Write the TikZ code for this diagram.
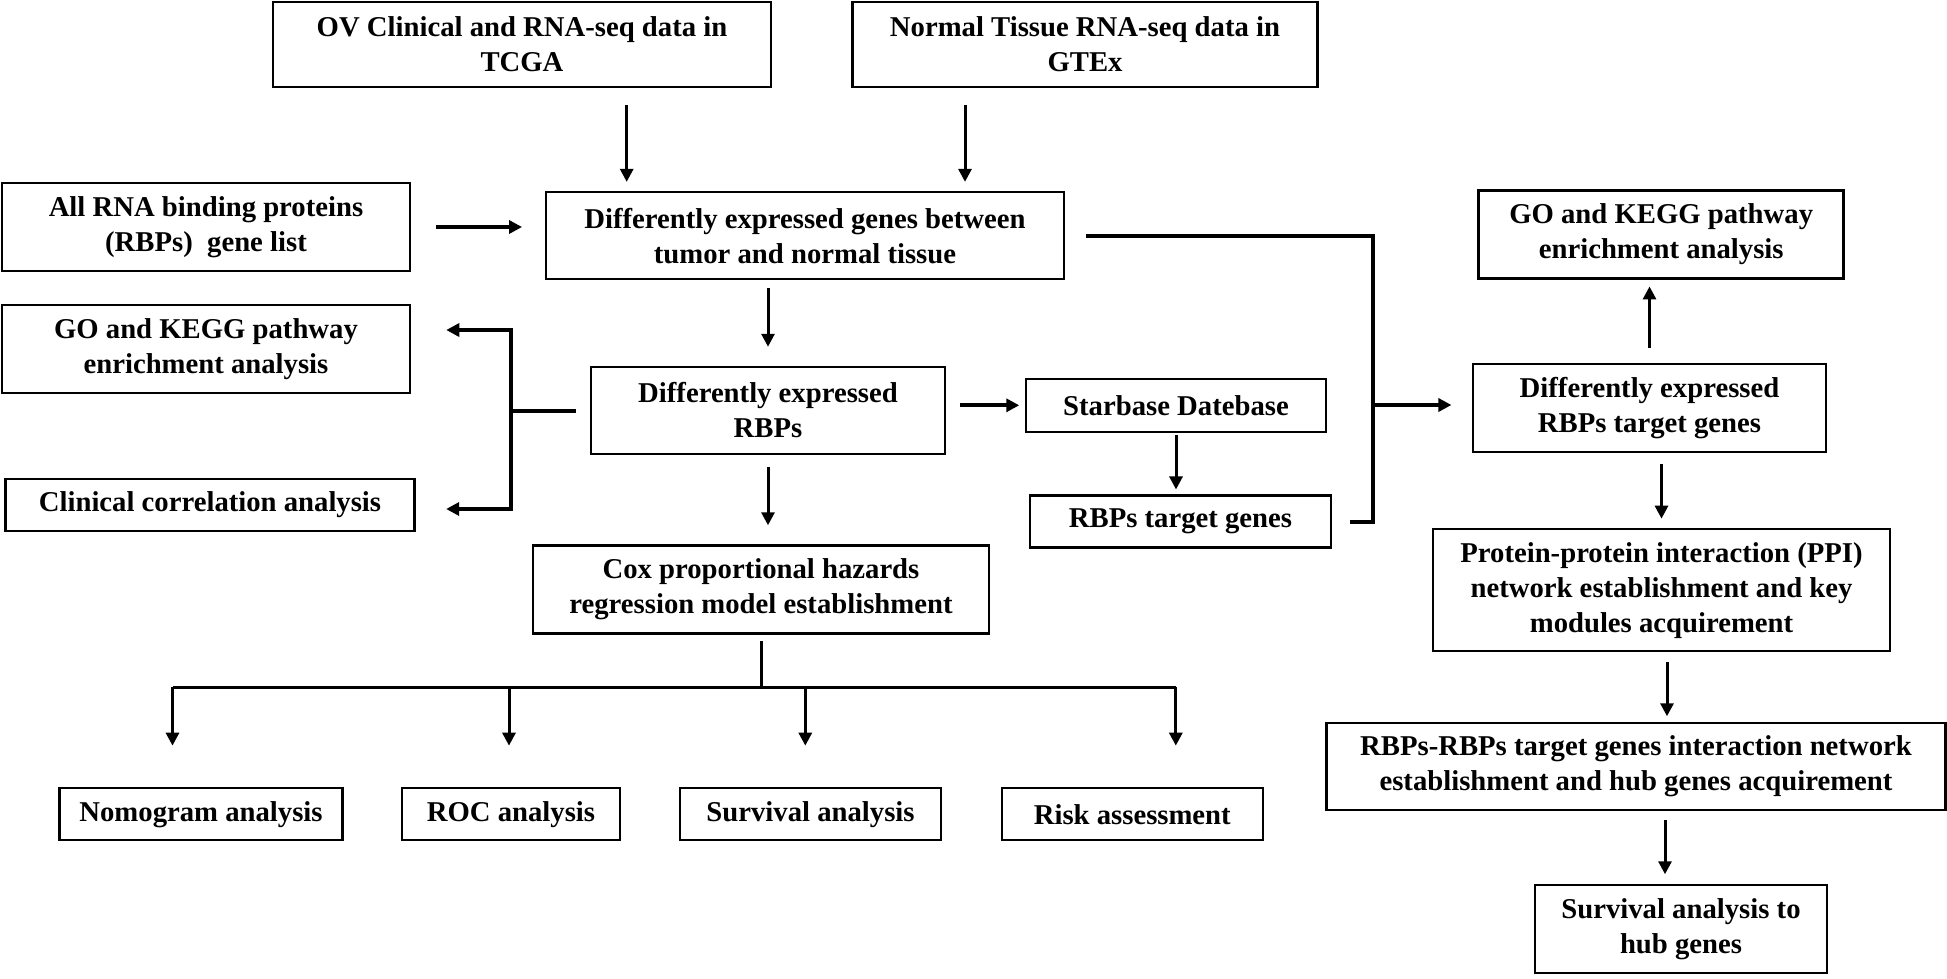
\documentclass[tikz,border=0pt]{standalone}
\usepackage{fontspec}
\setmainfont{Liberation Serif}
\usetikzlibrary{arrows.meta}

\begin{document}
\begin{tikzpicture}[x=1pt,y=-1pt,
  box/.style={draw,line width=2.5pt,align=center,inner sep=0pt,
    font=\fontsize{28.7}{35}\selectfont\bfseries},
  arr/.style={line width=3pt,-{Triangle[length=13pt,width=13pt]}},
  thk/.style={line width=4pt}]
  \useasboundingbox (0,0) rectangle (1947,978);

  \node[box,minimum width=498pt,minimum height=85pt] (ov) at (522,44.5) {OV Clinical and RNA-seq data in\\TCGA};
  \node[box,minimum width=465pt,minimum height=85pt] (gtex) at (1085,44.5) {Normal Tissue RNA-seq data in\\GTEx};
  \node[box,minimum width=408pt,minimum height=88pt] (rbplist) at (206,227) {All RNA binding proteins\\(RBPs)\ \ gene list};
  \node[box,minimum width=518pt,minimum height=87pt] (deg) at (805,235.6) {Differently expressed genes between\\tumor and normal tissue};
  \node[box,minimum width=408pt,minimum height=88pt] (gol) at (206,349) {GO and KEGG pathway\\enrichment analysis};
  \node[box,minimum width=354pt,minimum height=87pt] (derbp) at (768,410.5) {Differently expressed\\RBPs};
  \node[box,minimum width=409pt,minimum height=52pt] (clin) at (210,505) {Clinical correlation analysis};
  \node[box,minimum width=300pt,minimum height=53pt] (star) at (1176,405.3) {Starbase Datebase};
  \node[box,minimum width=301pt,minimum height=52pt] (rtg) at (1180.5,521.7) {RBPs target genes};
  \node[box,minimum width=456pt,minimum height=88pt] (cox) at (761,589.5) {Cox proportional hazards\\regression model establishment};
  \node[box,minimum width=283pt,minimum height=52pt] (nomo) at (201,814.2) {Nomogram analysis};
  \node[box,minimum width=218pt,minimum height=52pt] (roc) at (511,814.2) {ROC analysis};
  \node[box,minimum width=261pt,minimum height=52pt] (surv) at (810.5,814.2) {Survival analysis};
  \node[box,minimum width=261pt,minimum height=52pt] (risk) at (1132.3,814.2) {Risk assessment};
  \node[box,minimum width=365pt,minimum height=88pt] (gor) at (1661.2,234.5) {GO and KEGG pathway\\enrichment analysis};
  \node[box,minimum width=353pt,minimum height=88pt] (dertg) at (1649.5,407.8) {Differently expressed\\RBPs target genes};
  \node[box,minimum width=457pt,minimum height=122pt] (ppi) at (1661.5,590.2) {Protein-protein interaction (PPI)\\network establishment and key\\modules acquirement};
  \node[box,minimum width=619pt,minimum height=87pt] (net) at (1636,766.6) {RBPs-RBPs target genes interaction network\\establishment and hub genes acquirement};
  \node[box,minimum width=292pt,minimum height=88pt] (hub) at (1681,928.8) {Survival analysis to\\hub genes};

  \coordinate (jl) at (511,410.5);
  \coordinate (jr) at (1372.5,405);
  \coordinate (jc) at (761,687.3);

  \draw[arr,shorten <=17pt,shorten >=9pt] (ov.south -| 626.7,0) -- (deg.north -| 626.7,0);
  \draw[arr,shorten <=17pt,shorten >=9pt] (gtex.south -| 965,0) -- (deg.north -| 965,0);
  \draw[arr,thk,shorten <=25pt,shorten >=22.7pt] (rbplist.east) -- (rbplist.east -| deg.west);
  \draw[arr,shorten <=8pt,shorten >=19pt] (derbp.north |- deg.south) -- (derbp.north);
  \draw[thk,shorten <=14pt] (derbp.west) -- (jl);
  \draw[arr,thk,shorten >=35pt] (jl) |- ([yshift=19pt]gol.east);
  \draw[arr,thk,shorten >=30.4pt] (jl) |- ([yshift=-4pt]clin.east);
  \draw[arr,thk,shorten <=14pt,shorten >=5.5pt] (star.west -| derbp.east) -- (star.west);
  \draw[arr,shorten <=2.3pt,shorten >=5pt] (star.south) -- (star.south |- rtg.north);
  \draw[arr,shorten <=11.7pt,shorten >=19pt] (derbp.south) -- (derbp.south |- cox.north);
  \draw[thk,shorten <=21pt] (deg.east) -| (jr);
  \draw[thk,shorten <=17.5pt] (rtg.east) -| (jr);
  \draw[arr,thk,shorten >=20.3pt] (jr) -- (jr -| dertg.west);
  \draw[arr,shorten <=15pt,shorten >=6.7pt] (dertg.north) -- (dertg.north |- gor.south);
  \draw[arr,shorten <=11.3pt,shorten >=9.3pt] (ppi.north |- dertg.south) -- (ppi.north);
  \draw[arr,shorten <=10pt,shorten >=5.6pt] (ppi.south -| 1667,0) -- (net.north -| 1667,0);
  \draw[arr,shorten <=9pt,shorten >=9.3pt] (net.south -| 1665,0) -- (hub.north -| 1665,0);
  \draw[line width=3pt,shorten <=6.7pt] (cox.south) -- (jc);
  \draw[line width=3.5pt] (jc -| 172.5,0) -- (jc -| 1175.8,0);
  \foreach \x/\n in {172.5/nomo,509/roc,805.3/surv,1175.8/risk}
    \draw[arr,shorten >=41.3pt] (jc -| \x,0) -- (\n.north -| \x,0);
\end{tikzpicture}
\end{document}
